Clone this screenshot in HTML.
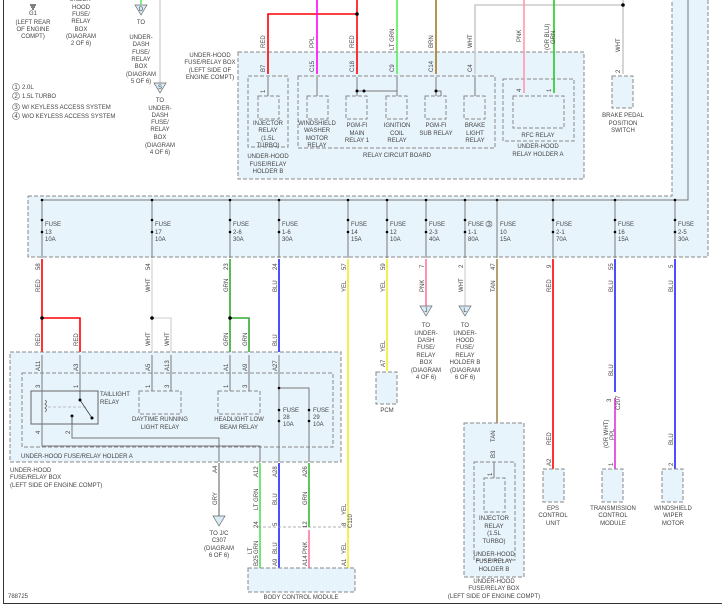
<!DOCTYPE html>
<html><head><meta charset="utf-8"><style>
html,body{margin:0;padding:0;background:#fff}
svg{display:block}
text{font-family:"Liberation Sans",sans-serif;font-size:6px;fill:#444}
.c{text-anchor:middle}
.d{fill:#e8f4fc;stroke:#888;stroke-width:1;stroke-dasharray:4,2}
.dn{fill:none;stroke:#888;stroke-width:1;stroke-dasharray:4,2}
.g{stroke:#777;stroke-width:1;fill:none}
.w{stroke-width:1.6;fill:none}
</style></head><body>
<svg width="722" height="606" viewBox="0 0 722 606" xmlns="http://www.w3.org/2000/svg">
<!-- frame -->
<line x1="3.5" y1="0" x2="3.5" y2="603" stroke="#333" stroke-width="1"/>
<line x1="3" y1="603.5" x2="722" y2="603.5" stroke="#333" stroke-width="1"/>

<!-- big fuse box region -->
<path d="M28,196 H672 V0 H708 V257 H28 Z" fill="#e8f4fc"/>
<path d="M28,196 H672 V0 M708,0 V257 H28 V196" class="dn"/>
<path d="M42,200 H688 V0" class="g" stroke-width="1.2"/>

<!-- top relay box -->
<rect x="238" y="52" width="346" height="127" class="d"/>
<rect x="248" y="76" width="40" height="71" class="dn"/>
<rect x="298" y="76" width="197" height="72" class="dn"/>
<rect x="503" y="79" width="71" height="62" class="dn"/>
<rect x="513" y="96" width="51" height="32" class="dn"/>
<rect x="612" y="76" width="21" height="32" class="d"/>
<!-- relay boxes -->
<rect x="258" y="96" width="21" height="23" class="dn"/>
<rect x="307" y="96" width="21" height="23" class="dn"/>
<rect x="346" y="96" width="21" height="23" class="dn"/>
<rect x="386" y="96" width="21" height="23" class="dn"/>
<rect x="425" y="96" width="21" height="23" class="dn"/>
<rect x="464" y="96" width="21" height="23" class="dn"/>

<!-- top wires -->
<path d="M268,74 V14 H357" class="w" stroke="#f00"/>
<path d="M357,0 V74" class="w" stroke="#f00"/>
<circle cx="357" cy="14" r="1.8" fill="#000"/>
<path d="M317,0 V74" class="w" stroke="#f0f"/>
<path d="M397,0 V74" class="w" stroke="#5e5"/>
<path d="M436,0 V74" class="w" stroke="#a07820"/>
<path d="M475,74 V5 H623 V74" class="w" stroke="#ccc" stroke-width="1.2"/>
<path d="M623,0 V5" class="w" stroke="#ccc" stroke-width="1.2"/>
<circle cx="623" cy="5" r="1.8" fill="#000"/>
<path d="M524,0 V93" class="w" stroke="#f9a"/>
<path d="M554,0 V93" class="w" stroke="#2c2"/>
<path d="M141,0 V5 M160,0 V83" stroke="#ccc" stroke-width="1.2"/>
<path d="M141,0 V4" stroke="#5e5" stroke-width="1.5"/>
<!-- internal top -->
<path d="M268,77 V96 M317,77 V96 M357,77 V96 M397,77 V96 M436,77 V96 M475,77 V96 M357,91 H397 M436,91 H441 V96" class="g"/>
<circle cx="357" cy="91" r="1.5" fill="#000"/><circle cx="364" cy="91" r="1.5" fill="#000"/><circle cx="436" cy="91" r="1.5" fill="#000"/>
<g font-size="5">
<text class="c" x="33" y="15">G1</text><text class="c" x="33" y="24">(LEFT REAR</text><text class="c" x="33" y="31">OF ENGINE</text><text class="c" x="33" y="38">COMPT)</text>
<text class="c" x="81" y="1">UNDER-</text><text class="c" x="81" y="9">HOOD</text><text class="c" x="81" y="16">FUSE/</text><text class="c" x="81" y="23">RELAY</text><text class="c" x="81" y="31">BOX</text><text class="c" x="81" y="38">(DIAGRAM</text><text class="c" x="81" y="45">2 OF 6)</text>
<text class="c" x="141" y="24">TO</text><text class="c" x="141" y="39">UNDER-</text><text class="c" x="141" y="46">DASH</text><text class="c" x="141" y="54">FUSE/</text><text class="c" x="141" y="61">RELAY</text><text class="c" x="141" y="68">BOX</text><text class="c" x="141" y="76">(DIAGRAM</text><text class="c" x="141" y="83">5 OF 6)</text>
<text class="c" x="160" y="102">TO</text><text class="c" x="160" y="110">UNDER-</text><text class="c" x="160" y="117">DASH</text><text class="c" x="160" y="124">FUSE/</text><text class="c" x="160" y="131">RELAY</text><text class="c" x="160" y="139">BOX</text><text class="c" x="160" y="147">(DIAGRAM</text><text class="c" x="160" y="154">4 OF 6)</text>
<text x="22" y="89">2.0L</text><text x="22" y="98">1.5L TURBO</text><text x="22" y="109">W/ KEYLESS ACCESS SYSTEM</text><text x="22" y="118">W/O KEYLESS ACCESS SYSTEM</text>
<text class="c" x="210" y="57">UNDER-HOOD</text><text class="c" x="210" y="64">FUSE/RELAY BOX</text><text class="c" x="210" y="72">(LEFT SIDE OF</text><text class="c" x="210" y="79">ENGINE COMPT)</text>
<text class="c" x="268" y="125">INJECTOR</text><text class="c" x="268" y="132">RELAY</text><text class="c" x="268" y="140">(1.5L</text><text class="c" x="268" y="147">TURBO)</text>
<text class="c" x="268" y="158">UNDER-HOOD</text><text class="c" x="268" y="166">FUSE/RELAY</text><text class="c" x="268" y="173">HOLDER B</text>
<text class="c" x="317" y="125">WINDSHIELD</text><text class="c" x="317" y="132">WASHER</text><text class="c" x="317" y="140">MOTOR</text><text class="c" x="317" y="147">RELAY</text>
<text class="c" x="357" y="127">PGM-FI</text><text class="c" x="357" y="135">MAIN</text><text class="c" x="357" y="142">RELAY 1</text>
<text class="c" x="397" y="127">IGNITION</text><text class="c" x="397" y="135">COIL</text><text class="c" x="397" y="142">RELAY</text>
<text class="c" x="436" y="127">PGM-FI</text><text class="c" x="436" y="135">SUB RELAY</text>
<text class="c" x="475" y="127">BRAKE</text><text class="c" x="475" y="135">LIGHT</text><text class="c" x="475" y="142">RELAY</text>
<text class="c" x="397" y="157">RELAY CIRCUIT BOARD</text>
<text class="c" x="538" y="137">RFC RELAY</text><text class="c" x="538" y="148">UNDER-HOOD</text><text class="c" x="538" y="156">RELAY HOLDER A</text>
<text class="c" x="623" y="117">BRAKE PEDAL</text><text class="c" x="623" y="125">POSITION</text><text class="c" x="623" y="132">SWITCH</text>
</g>
<g font-size="5">
<circle cx="16" cy="87" r="3.5" fill="none" stroke="#666" stroke-width=".6"/><text class="c" x="16" y="89">1</text>
<circle cx="16" cy="96" r="3.5" fill="none" stroke="#666" stroke-width=".6"/><text class="c" x="16" y="98">2</text>
<circle cx="16" cy="107" r="3.5" fill="none" stroke="#666" stroke-width=".6"/><text class="c" x="16" y="109">3</text>
<circle cx="16" cy="116" r="3.5" fill="none" stroke="#666" stroke-width=".6"/><text class="c" x="16" y="118">4</text>
</g>
<!-- triangles -->
<path d="M135,5 H147 L141,15 Z" fill="#d8ecf8" stroke="#666" stroke-width=".7"/><text class="c" x="141" y="11" font-size="5">D</text>
<path d="M154,83 H166 L160,93 Z" fill="#d8ecf8" stroke="#666" stroke-width=".7"/><text class="c" x="160" y="89" font-size="5">S</text>
<path d="M30,5 H36 M31,7 H35 M32,9 H34" stroke="#000" stroke-width="1"/>
<!-- top rotated labels -->
<g font-size="5">
<text transform="translate(265,48) rotate(-90)">RED</text>
<text transform="translate(314,48) rotate(-90)">PPL</text>
<text transform="translate(354,48) rotate(-90)">RED</text>
<text transform="translate(394,50) rotate(-90)">LT GRN</text>
<text transform="translate(433,48) rotate(-90)">BRN</text>
<text transform="translate(472,48) rotate(-90)">WHT</text>
<text transform="translate(521,42) rotate(-90)">PNK</text>
<text transform="translate(549,50) rotate(-90)">(OR BLU)</text><text transform="translate(555,44) rotate(-90)">GRN</text>
<text transform="translate(620,52) rotate(-90)">WHT</text>
<text transform="translate(265,72) rotate(-90)">B7</text>
<text transform="translate(314,72) rotate(-90)">C15</text>
<text transform="translate(354,72) rotate(-90)">C18</text>
<text transform="translate(394,72) rotate(-90)">C9</text>
<text transform="translate(433,72) rotate(-90)">C14</text>
<text transform="translate(472,72) rotate(-90)">C4</text>
<text transform="translate(521,92) rotate(-90)">4</text>
<text transform="translate(551,92) rotate(-90)">1</text>
<text transform="translate(620,73) rotate(-90)">2</text>
<text transform="translate(265,93) rotate(-90)">1</text>
</g>

<!-- fuses -->
<g font-size="5.5">
<g id="fz"></g>
</g>
<g class="g">
<path d="M42,200 V258 M152,200 V258 M230,200 V258 M279,200 V258 M348,200 V258 M387,200 V258 M426,200 V258 M465,200 V258 M497,200 V258 M553,200 V258 M615,200 V258 M675,200 V258"/>
</g>
<g fill="#000">
<circle cx="42" cy="200" r="1.3"/><circle cx="152" cy="200" r="1.3"/><circle cx="230" cy="200" r="1.3"/><circle cx="279" cy="200" r="1.3"/><circle cx="348" cy="200" r="1.3"/><circle cx="387" cy="200" r="1.3"/><circle cx="426" cy="200" r="1.3"/><circle cx="465" cy="200" r="1.3"/><circle cx="497" cy="200" r="1.3"/><circle cx="553" cy="200" r="1.3"/><circle cx="615" cy="200" r="1.3"/><circle cx="675" cy="200" r="1.3"/>
<circle cx="42" cy="220" r="1.3"/><circle cx="152" cy="220" r="1.3"/><circle cx="230" cy="220" r="1.3"/><circle cx="279" cy="220" r="1.3"/><circle cx="348" cy="220" r="1.3"/><circle cx="387" cy="220" r="1.3"/><circle cx="426" cy="220" r="1.3"/><circle cx="465" cy="220" r="1.3"/><circle cx="553" cy="220" r="1.3"/><circle cx="615" cy="220" r="1.3"/><circle cx="675" cy="220" r="1.3"/>
<circle cx="42" cy="232" r="1.3"/><circle cx="152" cy="232" r="1.3"/><circle cx="230" cy="232" r="1.3"/><circle cx="279" cy="232" r="1.3"/><circle cx="348" cy="232" r="1.3"/><circle cx="387" cy="232" r="1.3"/><circle cx="426" cy="232" r="1.3"/><circle cx="465" cy="232" r="1.3"/><circle cx="553" cy="232" r="1.3"/><circle cx="615" cy="232" r="1.3"/><circle cx="675" cy="232" r="1.3"/>
</g>
<g font-size="5.5">
<text x="45" y="226">FUSE</text><text x="45" y="234">13</text><text x="45" y="241">10A</text>
<text x="155" y="226">FUSE</text><text x="155" y="234">17</text><text x="155" y="241">10A</text>
<text x="233" y="226">FUSE</text><text x="233" y="234">2-6</text><text x="233" y="241">30A</text>
<text x="282" y="226">FUSE</text><text x="282" y="234">1-6</text><text x="282" y="241">30A</text>
<text x="351" y="226">FUSE</text><text x="351" y="234">14</text><text x="351" y="241">15A</text>
<text x="390" y="226">FUSE</text><text x="390" y="234">12</text><text x="390" y="241">10A</text>
<text x="429" y="226">FUSE</text><text x="429" y="234">2-3</text><text x="429" y="241">40A</text>
<text x="468" y="226">FUSE</text><text x="468" y="234">1-1</text><text x="468" y="241">80A</text>
<text x="500" y="226">FUSE</text><text x="500" y="234">10</text><text x="500" y="241">15A</text>
<text x="556" y="226">FUSE</text><text x="556" y="234">2-1</text><text x="556" y="241">70A</text>
<text x="618" y="226">FUSE</text><text x="618" y="234">16</text><text x="618" y="241">15A</text>
<text x="678" y="226">FUSE</text><text x="678" y="234">2-5</text><text x="678" y="241">30A</text>
<circle cx="489" cy="224" r="3" fill="none" stroke="#666" stroke-width=".6"/><text class="c" x="489" y="226" font-size="4.5">3</text>
</g>

<!-- lower wires from fuse box -->
<path d="M42,259 V352 M42,318 H80 V352" class="w" stroke="#f00"/>
<path d="M152,259 V352 M152,318 H171 V352" class="w" stroke="#ddd"/>
<path d="M230,259 V352 M230,318 H249 V352" class="w" stroke="#3a3"/>
<path d="M279,259 V352" class="w" stroke="#22f"/>
<path d="M348,259 V591" class="w" stroke="#ee2"/>
<path d="M387,259 V371" class="w" stroke="#ee2"/>
<path d="M426,259 V306" class="w" stroke="#f79"/>
<path d="M465,259 V306" class="w" stroke="#ddd"/>
<path d="M497,259 V462" class="w" stroke="#a08850"/>
<path d="M553,259 V469" class="w" stroke="#f00"/>
<path d="M615,259 V392" class="w" stroke="#22f"/>
<path d="M615,398 V469" class="w" stroke="#d3d"/>
<path d="M675,259 V469" class="w" stroke="#22f"/>
<g fill="#000"><circle cx="42" cy="318" r="1.8"/><circle cx="152" cy="318" r="1.8"/><circle cx="230" cy="318" r="1.8"/></g>
<g font-size="5">
<text transform="translate(40,270) rotate(-90)">58</text><text transform="translate(40,292) rotate(-90)">RED</text>
<text transform="translate(150,270) rotate(-90)">54</text><text transform="translate(150,292) rotate(-90)">WHT</text>
<text transform="translate(228,270) rotate(-90)">23</text><text transform="translate(228,292) rotate(-90)">GRN</text>
<text transform="translate(277,270) rotate(-90)">24</text><text transform="translate(277,292) rotate(-90)">BLU</text>
<text transform="translate(346,270) rotate(-90)">57</text><text transform="translate(346,292) rotate(-90)">YEL</text>
<text transform="translate(385,270) rotate(-90)">59</text><text transform="translate(385,292) rotate(-90)">YEL</text>
<text transform="translate(424,268) rotate(-90)">7</text><text transform="translate(424,292) rotate(-90)">PNK</text>
<text transform="translate(463,268) rotate(-90)">2</text><text transform="translate(463,292) rotate(-90)">WHT</text>
<text transform="translate(495,270) rotate(-90)">47</text><text transform="translate(495,292) rotate(-90)">TAN</text>
<text transform="translate(551,268) rotate(-90)">9</text><text transform="translate(551,292) rotate(-90)">RED</text>
<text transform="translate(613,270) rotate(-90)">55</text><text transform="translate(613,292) rotate(-90)">BLU</text>
<text transform="translate(673,268) rotate(-90)">5</text><text transform="translate(673,292) rotate(-90)">BLU</text>
<text transform="translate(40,346) rotate(-90)">RED</text><text transform="translate(78,346) rotate(-90)">RED</text>
<text transform="translate(150,346) rotate(-90)">WHT</text><text transform="translate(169,346) rotate(-90)">WHT</text>
<text transform="translate(228,346) rotate(-90)">GRN</text><text transform="translate(247,346) rotate(-90)">GRN</text>
<text transform="translate(277,346) rotate(-90)">BLU</text>
<text transform="translate(385,352) rotate(-90)">YEL</text><text transform="translate(385,367) rotate(-90)">A7</text>
</g>

<!-- triangles J, L -->
<path d="M420,306 H432 L426,316 Z" fill="#d8ecf8" stroke="#666" stroke-width=".7"/><text class="c" x="426" y="312" font-size="5">J</text>
<path d="M459,306 H471 L465,316 Z" fill="#d8ecf8" stroke="#666" stroke-width=".7"/><text class="c" x="465" y="312" font-size="5">L</text>
<g font-size="5">
<text class="c" x="426" y="327">TO</text><text class="c" x="426" y="335">UNDER-</text><text class="c" x="426" y="342">DASH</text><text class="c" x="426" y="349">FUSE/</text><text class="c" x="426" y="357">RELAY</text><text class="c" x="426" y="364">BOX</text><text class="c" x="426" y="372">(DIAGRAM</text><text class="c" x="426" y="379">4 OF 6)</text>
<text class="c" x="465" y="327">TO</text><text class="c" x="465" y="335">UNDER-</text><text class="c" x="465" y="342">HOOD</text><text class="c" x="465" y="349">FUSE/</text><text class="c" x="465" y="357">RELAY</text><text class="c" x="465" y="364">HOLDER B</text><text class="c" x="465" y="372">(DIAGRAM</text><text class="c" x="465" y="379">6 OF 6)</text>
</g>

<!-- PCM -->
<rect x="376" y="372" width="21" height="32" class="d"/>
<text class="c" x="387" y="412" font-size="5">PCM</text>

<!-- holder A -->
<rect x="10" y="352" width="331" height="110" class="d"/>
<rect x="22" y="373" width="311" height="74" class="dn"/>
<rect x="31" y="391" width="67" height="33" fill="none" stroke="#666" stroke-width="1"/>
<rect x="139" y="391" width="42" height="23" class="dn"/>
<rect x="218" y="391" width="42" height="23" class="dn"/>
<path d="M42,355 V424 M80,355 V391 M152,355 V391 M171,355 V391 M230,355 V391 M249,355 V391" class="g"/>
<path d="M42,424 V446 H260 V462 M72,424 V438 H219 V462 M279,355 V462 M279,388 H309 V462" class="g"/>
<path d="M45,400 q3,2 0,4 q3,2 0,4 q3,2 0,4" fill="none" stroke="#666" stroke-width=".8"/>
<path d="M48,407 H86" stroke="#aaa" stroke-dasharray="3,2" stroke-width=".8"/>
<path d="M80,391 V400 L92,418" stroke="#444" stroke-width=".8" fill="none"/>
<circle cx="80" cy="400" r="1.5" fill="#000"/><circle cx="92" cy="418" r="1.5" fill="#000"/><circle cx="72" cy="416" r="1.5" fill="#000"/>
<path d="M72,416 V424" stroke="#444" stroke-width=".8"/>
<g fill="#000"><circle cx="279" cy="388" r="1.3"/><circle cx="279" cy="410" r="1.3"/><circle cx="279" cy="421" r="1.3"/><circle cx="309" cy="410" r="1.3"/><circle cx="309" cy="421" r="1.3"/></g>
<g font-size="5">
<text transform="translate(40,371) rotate(-90)">A11</text><text transform="translate(78,371) rotate(-90)">A3</text>
<text transform="translate(150,371) rotate(-90)">A5</text><text transform="translate(169,371) rotate(-90)">A13</text>
<text transform="translate(228,371) rotate(-90)">A1</text><text transform="translate(247,371) rotate(-90)">A9</text>
<text transform="translate(277,371) rotate(-90)">A27</text>
<text transform="translate(40,388) rotate(-90)">3</text><text transform="translate(78,388) rotate(-90)">1</text>
<text transform="translate(150,388) rotate(-90)">1</text><text transform="translate(169,388) rotate(-90)">3</text>
<text transform="translate(228,388) rotate(-90)">1</text><text transform="translate(247,388) rotate(-90)">3</text>
<text transform="translate(40,434) rotate(-90)">4</text><text transform="translate(70,434) rotate(-90)">2</text>
<text x="100" y="396">TAILLIGHT</text><text x="100" y="404">RELAY</text>
<text class="c" x="160" y="421">DAYTIME RUNNING</text><text class="c" x="160" y="429">LIGHT RELAY</text>
<text class="c" x="239" y="421">HEADLIGHT LOW</text><text class="c" x="239" y="429">BEAM RELAY</text>
<text x="283" y="412">FUSE</text><text x="283" y="419">28</text><text x="283" y="426">10A</text>
<text x="313" y="412">FUSE</text><text x="313" y="419">29</text><text x="313" y="426">10A</text>
<text x="21" y="458">UNDER-HOOD FUSE/RELAY HOLDER A</text>
<text x="10" y="472">UNDER-HOOD</text><text x="10" y="479">FUSE/RELAY BOX</text><text x="10" y="487">(LEFT SIDE OF ENGINE COMPT)</text>
<text x="8" y="598">788725</text>
</g>

<!-- below holder A -->
<path d="M219,463 V516" class="w" stroke="#999"/>
<path d="M260,463 V568" class="w" stroke="#5d5"/>
<path d="M279,463 V568" class="w" stroke="#22f"/>
<path d="M309,463 V527" class="w" stroke="#3b3"/>
<path d="M309,530 V568" class="w" stroke="#f79"/>
<path d="M258,527 H350" stroke="#999" stroke-dasharray="3,2" stroke-width=".8"/>
<path d="M213,516 H225 L219,526 Z" fill="#d8ecf8" stroke="#666" stroke-width=".7"/>
<rect x="248" y="568" width="107" height="24" class="d"/>
<g font-size="5">
<text class="c" x="219" y="535">TO J/C</text><text class="c" x="219" y="542">C307</text><text class="c" x="219" y="550">(DIAGRAM</text><text class="c" x="219" y="557">6 OF 6)</text>
<text transform="translate(217,473) rotate(-90)">A4</text><text transform="translate(217,505) rotate(-90)">GRY</text>
<text transform="translate(258,477) rotate(-90)">A12</text><text transform="translate(258,510) rotate(-90)">LT GRN</text>
<text transform="translate(277,477) rotate(-90)">A28</text><text transform="translate(277,505) rotate(-90)">BLU</text>
<text transform="translate(307,477) rotate(-90)">A26</text><text transform="translate(307,505) rotate(-90)">GRN</text>
<text transform="translate(346,515) rotate(-90)">YEL</text>
<text transform="translate(258,528) rotate(-90)">24</text><text transform="translate(277,526) rotate(-90)">5</text><text transform="translate(307,528) rotate(-90)">12</text><text transform="translate(346,526) rotate(-90)">8</text>
<text transform="translate(352,528) rotate(-90)">C110</text>
<text transform="translate(252,554) rotate(-90)">LT</text><text transform="translate(258,554) rotate(-90)">GRN</text>
<text transform="translate(277,554) rotate(-90)">BLU</text><text transform="translate(307,554) rotate(-90)">PNK</text><text transform="translate(346,554) rotate(-90)">YEL</text>
<text transform="translate(258,566) rotate(-90)">B25</text><text transform="translate(277,566) rotate(-90)">A9</text><text transform="translate(307,566) rotate(-90)">A14</text><text transform="translate(346,566) rotate(-90)">A1</text>
<text class="c" x="301" y="599">BODY CONTROL MODULE</text>
</g>

<!-- holder B lower -->
<rect x="464" y="423" width="60" height="154" class="d"/>
<rect x="474" y="462" width="41" height="98" class="dn"/>
<rect x="484" y="478" width="21" height="34" class="dn"/>
<path d="M494,462 V478" class="g"/>
<g font-size="5">
<text transform="translate(495,442) rotate(-90)">TAN</text><text transform="translate(495,458) rotate(-90)">B3</text><text transform="translate(492,476) rotate(-90)">1</text>
<text class="c" x="494" y="520">INJECTOR</text><text class="c" x="494" y="528">RELAY</text><text class="c" x="494" y="535">(1.5L</text><text class="c" x="494" y="543">TURBO)</text>
<text class="c" x="494" y="556">UNDER-HOOD</text><text class="c" x="494" y="563">FUSE/RELAY</text><text class="c" x="494" y="571">HOLDER B</text>
<text class="c" x="494" y="583">UNDER-HOOD</text><text class="c" x="494" y="590">FUSE/RELAY BOX</text><text class="c" x="494" y="598">(LEFT SIDE OF ENGINE COMPT)</text>
</g>

<!-- right modules -->
<rect x="543" y="469" width="21" height="33" class="d"/>
<rect x="602" y="469" width="21" height="33" class="d"/>
<rect x="662" y="469" width="21" height="33" class="d"/>
<g font-size="5">
<text transform="translate(551,445) rotate(-90)">RED</text><text transform="translate(551,466) rotate(-90)">A2</text>
<text class="c" x="553" y="510">EPS</text><text class="c" x="553" y="517">CONTROL</text><text class="c" x="553" y="525">UNIT</text>
<text transform="translate(613,376) rotate(-90)">BLU</text><text transform="translate(611,402) rotate(-90)">3</text><text transform="translate(620,410) rotate(-90)">C207</text>
<text transform="translate(608,448) rotate(-90)">(OR WHT)</text><text transform="translate(614,440) rotate(-90)">PPL</text><text transform="translate(613,466) rotate(-90)">1</text>
<text class="c" x="613" y="510">TRANSMISSION</text><text class="c" x="613" y="517">CONTROL</text><text class="c" x="613" y="525">MODULE</text>
<text transform="translate(673,445) rotate(-90)">BLU</text><text transform="translate(673,466) rotate(-90)">2</text>
<text class="c" x="673" y="510">WINDSHIELD</text><text class="c" x="673" y="517">WIPER</text><text class="c" x="673" y="525">MOTOR</text>
</g>
</svg>
</body></html>
